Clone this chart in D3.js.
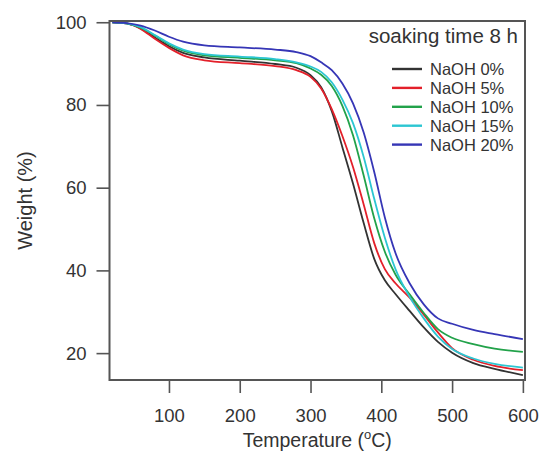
<!DOCTYPE html>
<html>
<head>
<meta charset="utf-8">
<script src="https://cdn.jsdelivr.net/npm/d3@7"></script>
<style>
  body { margin: 0; background: #fff; }
  text { font-family: "Liberation Sans", Arial, sans-serif; fill: #333; }
</style>
</head>
<body>
<div id="chart"></div>
<script>
// temperatures (°C) the curves were read at
var temps = [20, 40, 60, 80, 100, 120, 150, 200, 250, 280, 300, 315, 330, 345, 360, 375, 390, 405, 420, 440, 460, 480, 500, 530, 560, 600];

// weight (%) for each soaking solution
var naoh0  = [100, 99.7, 98.5, 96.3, 94.2, 92.6, 91.5, 90.7, 89.9, 89.0, 87.2, 84.3, 78.5, 69.8, 61.0, 51.5, 42.8, 37.6, 34.3, 30.2, 26.2, 22.7, 20.1, 17.6, 16.2, 14.7];
var naoh5  = [100, 99.7, 98.4, 96.0, 93.8, 92.0, 90.8, 90.1, 89.4, 88.4, 86.8, 84.0, 79.0, 72.5, 65.0, 56.0, 46.6, 40.3, 36.9, 33.4, 29.3, 25.0, 21.2, 18.4, 16.9, 15.9];
var naoh10 = [100, 99.7, 98.7, 96.8, 94.7, 93.1, 92.0, 91.4, 90.8, 90.1, 88.8, 87.3, 84.6, 79.8, 72.7, 63.0, 52.6, 44.5, 39.0, 34.2, 29.7, 25.8, 23.7, 22.2, 21.1, 20.3];
var naoh15 = [100, 99.7, 98.8, 96.9, 94.9, 93.4, 92.3, 91.7, 91.1, 90.3, 89.3, 88.0, 85.5, 81.3, 75.6, 67.5, 57.3, 47.9, 40.3, 33.6, 28.4, 24.0, 21.0, 18.7, 17.4, 16.5];
var naoh20 = [100, 99.8, 99.2, 98.0, 96.5, 95.3, 94.4, 93.9, 93.4, 92.8, 91.8, 90.3, 88.4, 85.2, 80.4, 73.4, 63.8, 52.8, 44.2, 36.9, 31.8, 28.4, 27.1, 25.6, 24.6, 23.4];

var seriesNames  = ["NaOH 0%", "NaOH 5%", "NaOH 10%", "NaOH 15%", "NaOH 20%"];
var seriesColors = ["#333333", "#e3202a", "#22a24a", "#2cc6d2", "#3636b6"];
var xTicks = [100, 200, 300, 400, 500, 600];
var yTicks = [20, 40, 60, 80, 100];
var legendTitle = "soaking time 8 h";

var w = 540,
    h = 452,
    margin = { top: 21, right: 15, bottom: 72, left: 109.5 },
    tickLen = 13,
    frameColor = "#555";

var allSeries = [naoh0, naoh5, naoh10, naoh15, naoh20];

var svg = d3.select("#chart").append("svg")
    .attr("width", w)
    .attr("height", h);

var x = d3.scaleLinear().domain([16, 603]).range([margin.left, w - margin.right]);
var y = d3.scaleLinear().domain([13.5, 100.3]).range([h - margin.bottom, margin.top]);

/* curves */
var line = d3.line()
    .x(function (d, i) { return x(temps[i]); })
    .y(function (d) { return y(d); })
    .curve(d3.curveMonotoneX);

svg.append("g").attr("class", "curves")
  .selectAll("path")
    .data(allSeries)
  .enter().append("path")
    .attr("d", line)
    .attr("fill", "none")
    .attr("stroke", function (d, i) { return seriesColors[i]; })
    .attr("stroke-width", 1.8);

/* axes */
var xAxis = svg.append("g")
    .attr("transform", "translate(0," + (h - margin.bottom) + ")")
    .call(d3.axisBottom(x).tickValues(xTicks).tickSize(tickLen).tickPadding(16));

var yAxis = svg.append("g")
    .attr("transform", "translate(" + margin.left + ",0)")
    .call(d3.axisLeft(y).tickValues(yTicks).tickSize(tickLen).tickPadding(10));

[xAxis, yAxis].forEach(function (a) {
  a.select(".domain").remove();
  a.selectAll(".tick line").attr("stroke", frameColor).attr("stroke-width", 1.6);
  a.selectAll(".tick text")
    .attr("fill", "#333")
    .style("font-size", "18.5px")
    .style("font-family", '"Liberation Sans", Arial, sans-serif');
});

/* frame */
svg.append("rect")
    .attr("x", margin.left)
    .attr("y", margin.top)
    .attr("width", w - margin.right - margin.left)
    .attr("height", h - margin.bottom - margin.top)
    .attr("fill", "none")
    .attr("stroke", frameColor)
    .attr("stroke-width", 2);

/* axis titles */
var xt = svg.append("text")
    .attr("x", (margin.left + w - margin.right) / 2)
    .attr("y", 447)
    .attr("text-anchor", "middle")
    .style("font-size", "19.5px");
xt.append("tspan").text("Temperature (");
xt.append("tspan").attr("dy", -8).style("font-size", "13px").text("o");
xt.append("tspan").attr("dy", 8).text("C)");

svg.append("text")
    .attr("transform", "translate(32," + ((margin.top + h - margin.bottom) / 2) + ") rotate(-90)")
    .attr("text-anchor", "middle")
    .style("font-size", "20px")
    .text("Weight (%)");

/* legend */
svg.append("text")
    .attr("x", 518)
    .attr("y", 43)
    .attr("text-anchor", "end")
    .style("font-size", "20.5px")
    .text(legendTitle);

var leg = svg.selectAll("g.leg")
    .data(seriesNames)
  .enter().append("g")
    .attr("class", "leg")
    .attr("transform", function (d, i) { return "translate(392," + (69 + i * 18.9) + ")"; });

leg.append("line")
    .attr("x1", 0).attr("x2", 30)
    .attr("stroke", function (d, i) { return seriesColors[i]; })
    .attr("stroke-width", 2.4);

leg.append("text")
    .attr("x", 38)
    .attr("dy", "0.36em")
    .style("font-size", "16.5px")
    .text(function (d) { return d; });
</script>
</body>
</html>
